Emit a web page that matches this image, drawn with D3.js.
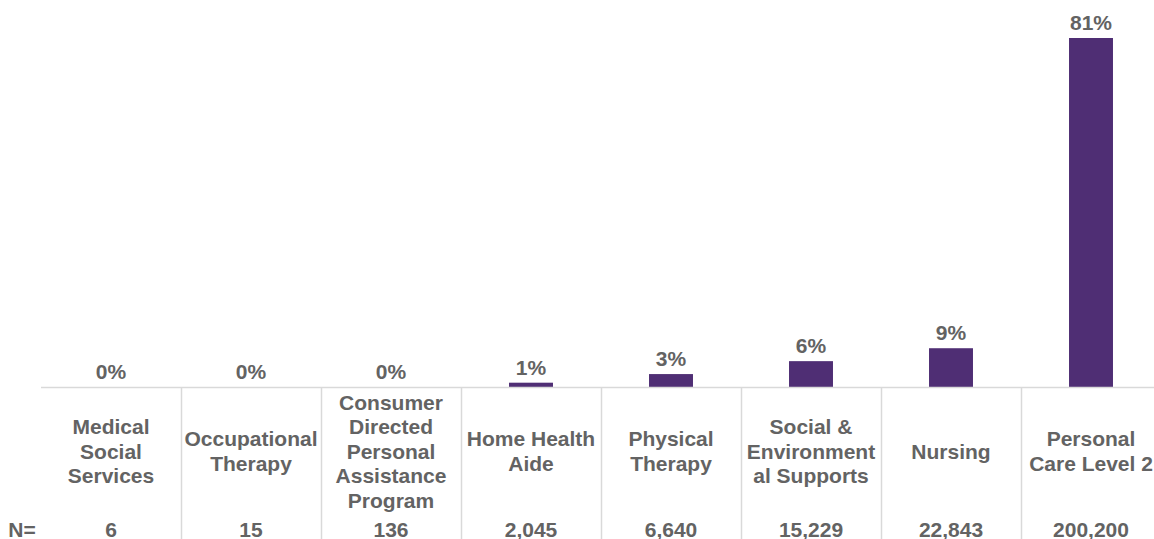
<!DOCTYPE html>
<html>
<head>
<meta charset="utf-8">
<script src="https://cdn.jsdelivr.net/npm/d3@7"></script>
<style>
  html, body { margin: 0; padding: 0; background: #fff; }
  svg { display: block; }
  text { font-family: "Liberation Sans", Arial, sans-serif; font-weight: bold; fill: #636363; }
</style>
</head>
<body>
<svg id="chart" width="1154" height="539"></svg>
<script>
// Service categories (line breaks as shown under each column)
const categories = [
  "Medical\nSocial\nServices",
  "Occupational\nTherapy",
  "Consumer\nDirected\nPersonal\nAssistance\nProgram",
  "Home Health\nAide",
  "Physical\nTherapy",
  "Social &\nEnvironment\nal Supports",
  "Nursing",
  "Personal\nCare Level 2"
];
// Share of members per service (%)
const shares = [0, 0, 0, 1, 3, 6, 9, 81];
// Member counts per service
const counts = ["6", "15", "136", "2,045", "6,640", "15,229", "22,843", "200,200"];

const svg = d3.select("#chart");
const baseY = 387;
const fs = 21;

const x = d3.scaleBand()
  .domain(categories)
  .range([41, 1161])
  .padding(0);

const y = d3.scaleLinear()
  .domain([0, 81])
  .range([baseY, 38]);

const barW = x.bandwidth() * 0.314;

// Column separators
svg.append("g")
  .selectAll("line")
  .data(categories.slice(1))
  .join("line")
  .attr("x1", d => x(d) + 0.5)
  .attr("x2", d => x(d) + 0.5)
  .attr("y1", baseY)
  .attr("y2", 539)
  .attr("stroke", "#d9d9d9")
  .attr("stroke-width", 1.5);

// Bars
svg.append("g")
  .selectAll("rect")
  .data(categories)
  .join("rect")
  .attr("x", d => x(d) + (x.bandwidth() - barW) / 2)
  .attr("width", barW)
  .attr("y", (d, i) => y(shares[i]))
  .attr("height", (d, i) => baseY - y(shares[i]))
  .attr("fill", "#4f2e74");

// Baseline
svg.append("line")
  .attr("x1", 41).attr("x2", 1154)
  .attr("y1", baseY + 0.5).attr("y2", baseY + 0.5)
  .attr("stroke", "#d9d9d9")
  .attr("stroke-width", 1.5);

// Value labels
svg.append("g")
  .selectAll("text")
  .data(categories)
  .join("text")
  .attr("x", d => x(d) + x.bandwidth() / 2)
  .attr("y", (d, i) => y(shares[i]) - 8)
  .attr("text-anchor", "middle")
  .attr("font-size", fs)
  .text((d, i) => shares[i] + "%");

// Category labels, centred vertically in the label band
const lineH = 24.5;
const labelCenter = 451;
svg.append("g")
  .selectAll("text")
  .data(categories)
  .join("text")
  .attr("text-anchor", "middle")
  .attr("font-size", fs)
  .each(function(d) {
    const lines = d.split("\n");
    const t = d3.select(this);
    const cx = x(d) + x.bandwidth() / 2;
    const top = labelCenter - (lines.length - 1) * lineH / 2;
    lines.forEach((ln, k) => {
      t.append("tspan")
        .attr("x", cx)
        .attr("y", top + k * lineH + 7.5)
        .text(ln);
    });
  });

// N row
svg.append("text")
  .attr("x", 22)
  .attr("y", 536.5)
  .attr("text-anchor", "middle")
  .attr("font-size", fs)
  .text("N=");

svg.append("g")
  .selectAll("text")
  .data(categories)
  .join("text")
  .attr("x", d => x(d) + x.bandwidth() / 2)
  .attr("y", 536.5)
  .attr("text-anchor", "middle")
  .attr("font-size", fs)
  .text((d, i) => counts[i]);
</script>
</body>
</html>
